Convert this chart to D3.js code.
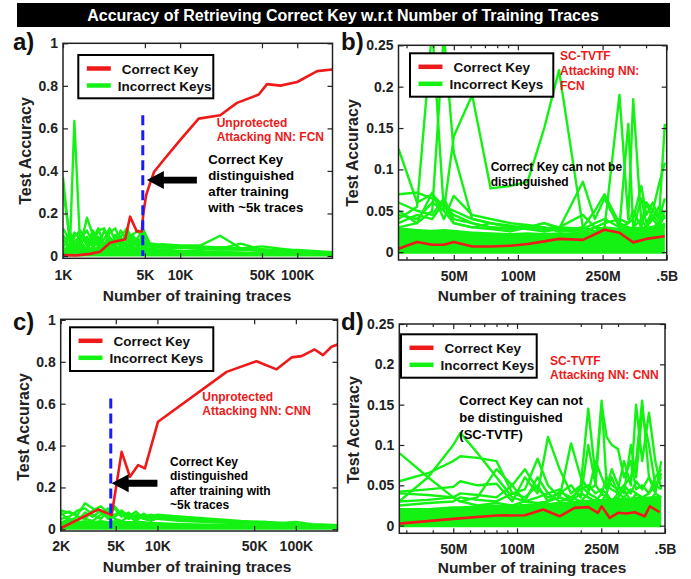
<!DOCTYPE html>
<html>
<head>
<meta charset="utf-8">
<script src="https://cdn.jsdelivr.net/npm/d3@7"></script>
<style>
  body { margin: 0; background: #fff; }
  text { font-family: "Liberation Sans", Arial, Helvetica, sans-serif; font-weight: bold; }
</style>
</head>
<body>
<div id="viz"></div>
<script>
const width = 691, height = 579;
const GREEN = "#14f214", RED = "#ee1a1a", BLUE = "#1a1aff";

const title = "Accuracy of Retrieving Correct Key w.r.t Number of Training Traces";

// ---------- a) unprotected, FCN ----------
const aTicks = [1000, 5000, 10000, 50000, 100000];
const aTickLabels = ["1K", "5K", "10K", "50K", "100K"];
const aCorrectX = [1000, 1310, 1700, 2070, 2520, 2970, 3390, 3740, 4270, 4700, 4850, 5130, 5550, 6000, 7200, 10000, 14400, 22000, 30600, 46900, 55200, 71800, 99800, 148000, 199000];
const aCorrectY = [0.004, 0.003, 0.01, 0.02, 0.062, 0.072, 0.078, 0.185, 0.115, 0.115, 0.2, 0.286, 0.344, 0.396, 0.45, 0.545, 0.646, 0.662, 0.72, 0.759, 0.808, 0.801, 0.818, 0.869, 0.877];
const aTraces = [1000, 1150, 1250, 1400, 1600, 1800, 2000, 2250, 2500, 2800, 3100, 3500, 3900, 4400, 4900, 5500, 7000, 10000, 15000, 22000, 33000, 50000, 100000, 200000];
const aIncorrect = [
  [0.37, 0.05, 0.03, 0.06, 0.09, 0.04, 0.07, 0.03, 0.05, 0.08, 0.04, 0.06, 0.03, 0.05, 0.07, 0.05, 0.045, 0.04, 0.04, 0.035, 0.03, 0.025, 0.018, 0.012],
  [0.31, 0.08, 0.04, 0.10, 0.05, 0.12, 0.06, 0.04, 0.09, 0.05, 0.03, 0.07, 0.10, 0.06, 0.04, 0.05, 0.05, 0.045, 0.04, 0.04, 0.03, 0.03, 0.02, 0.015],
  [0.13, 0.07, 0.635, 0.05, 0.03, 0.08, 0.13, 0.05, 0.04, 0.06, 0.09, 0.04, 0.07, 0.05, 0.115, 0.055, 0.05, 0.045, 0.045, 0.04, 0.035, 0.03, 0.02, 0.015],
  [0.06, 0.11, 0.06, 0.04, 0.18, 0.10, 0.04, 0.08, 0.13, 0.07, 0.05, 0.11, 0.06, 0.08, 0.04, 0.05, 0.055, 0.05, 0.05, 0.095, 0.035, 0.03, 0.022, 0.015],
  [0.10, 0.04, 0.09, 0.12, 0.07, 0.05, 0.12, 0.13, 0.06, 0.04, 0.12, 0.08, 0.05, 0.09, 0.12, 0.06, 0.05, 0.045, 0.04, 0.035, 0.058, 0.03, 0.02, 0.015],
  [0.02, 0.06, 0.11, 0.08, 0.12, 0.06, 0.09, 0.05, 0.11, 0.13, 0.07, 0.04, 0.10, 0.12, 0.06, 0.045, 0.045, 0.04, 0.035, 0.03, 0.035, 0.045, 0.025, 0.012],
  [0.04, 0.09, 0.05, 0.07, 0.03, 0.09, 0.05, 0.12, 0.08, 0.05, 0.09, 0.13, 0.08, 0.04, 0.09, 0.05, 0.04, 0.04, 0.035, 0.03, 0.03, 0.025, 0.02, 0.015],
  [0.08, 0.03, 0.07, 0.09, 0.06, 0.11, 0.08, 0.06, 0.04, 0.10, 0.06, 0.09, 0.04, 0.07, 0.05, 0.045, 0.04, 0.04, 0.035, 0.04, 0.035, 0.03, 0.028, 0.018]
];
const aDense = [0.04, 0.04, 0.045, 0.04, 0.045, 0.04, 0.045, 0.04, 0.045, 0.04, 0.045, 0.04, 0.045, 0.04, 0.045, 0.04, 0.035, 0.03, 0.028, 0.025, 0.022, 0.02, 0.016, 0.012];

// ---------- b) SC-TVTF, FCN (traces in millions) ----------
const bTicks = [50, 100, 250, 500];
const bTickLabels = ["50M", "100M", "250M", ".5B"];
const bCorrectX = [27.5, 33.6, 39.6, 44.9, 50, 61.1, 74.5, 92.5, 111, 133, 156, 202, 255, 300, 348, 401, 490];
const bCorrectY = [0.004, 0.0123, 0.009, 0.009, 0.0123, 0.0069, 0.0069, 0.0078, 0.0098, 0.013, 0.016, 0.0148, 0.027, 0.0234, 0.0118, 0.016, 0.0192];
const bTraces = [27.5, 33.6, 39.6, 44.9, 50, 61, 74.5, 92.5, 111, 133, 156, 202, 230, 255, 300, 330, 348, 380, 401, 430, 460, 490];
const bIncorrect = [
  [0.040, 0.055, 0.270, 0.050, 0.035, 0.030, 0.028, 0.025, 0.030, 0.025, 0.028, 0.022, 0.030, 0.025, 0.028, 0.030, 0.025, 0.030, 0.028, 0.030, 0.035, 0.030],
  [0.030, 0.035, 0.050, 0.265, 0.120, 0.040, 0.035, 0.030, 0.028, 0.030, 0.025, 0.030, 0.025, 0.030, 0.025, 0.028, 0.030, 0.025, 0.030, 0.040, 0.030, 0.045],
  [0.045, 0.040, 0.060, 0.050, 0.140, 0.190, 0.077, 0.080, 0.085, 0.150, 0.220, 0.030, 0.025, 0.030, 0.028, 0.025, 0.030, 0.028, 0.025, 0.030, 0.028, 0.035],
  [0.125, 0.060, 0.070, 0.055, 0.050, 0.040, 0.035, 0.030, 0.032, 0.028, 0.030, 0.025, 0.030, 0.028, 0.190, 0.040, 0.185, 0.035, 0.060, 0.050, 0.040, 0.065],
  [0.070, 0.072, 0.065, 0.055, 0.045, 0.035, 0.030, 0.028, 0.030, 0.035, 0.028, 0.085, 0.040, 0.065, 0.030, 0.035, 0.040, 0.080, 0.045, 0.060, 0.040, 0.155],
  [0.050, 0.035, 0.072, 0.040, 0.068, 0.045, 0.040, 0.035, 0.033, 0.030, 0.025, 0.030, 0.050, 0.070, 0.035, 0.030, 0.028, 0.065, 0.035, 0.050, 0.082, 0.108],
  [0.035, 0.045, 0.040, 0.060, 0.035, 0.030, 0.035, 0.032, 0.028, 0.025, 0.030, 0.028, 0.035, 0.040, 0.030, 0.155, 0.030, 0.040, 0.030, 0.045, 0.035, 0.050],
  [0.060, 0.050, 0.045, 0.065, 0.040, 0.035, 0.030, 0.028, 0.030, 0.035, 0.030, 0.045, 0.030, 0.035, 0.040, 0.035, 0.050, 0.030, 0.060, 0.040, 0.055, 0.040]
];
const bDense = [0.030, 0.028, 0.027, 0.028, 0.027, 0.025, 0.024, 0.023, 0.024, 0.023, 0.024, 0.024, 0.026, 0.028, 0.028, 0.030, 0.030, 0.031, 0.031, 0.032, 0.032, 0.033];

// ---------- c) unprotected, CNN ----------
const cTicks = [2000, 5000, 10000, 50000, 100000];
const cTickLabels = ["2K", "5K", "10K", "50K", "100K"];
const cCorrectX = [2000, 3740, 4670, 5510, 6330, 7260, 8120, 10100, 31600, 52000, 72600, 93100, 110000, 137000, 157000, 181000, 200000];
const cCorrectY = [0.005, 0.095, 0.068, 0.370, 0.251, 0.307, 0.291, 0.514, 0.752, 0.803, 0.764, 0.821, 0.827, 0.859, 0.832, 0.872, 0.883];
const cTraces = [2000, 2300, 2650, 3000, 3400, 3900, 4400, 4900, 5500, 6200, 7000, 8000, 9000, 10000, 15000, 25000, 40000, 60000, 80000, 100000, 130000, 200000];
const cIncorrect = [
  [0.09, 0.08, 0.07, 0.125, 0.10, 0.08, 0.06, 0.07, 0.09, 0.06, 0.085, 0.05, 0.06, 0.07, 0.06, 0.05, 0.04, 0.035, 0.03, 0.025, 0.022, 0.02],
  [0.07, 0.085, 0.06, 0.05, 0.09, 0.11, 0.08, 0.10, 0.06, 0.08, 0.05, 0.075, 0.05, 0.065, 0.055, 0.045, 0.035, 0.03, 0.03, 0.035, 0.025, 0.02],
  [0.05, 0.06, 0.09, 0.10, 0.07, 0.05, 0.09, 0.11, 0.07, 0.05, 0.07, 0.06, 0.07, 0.06, 0.05, 0.04, 0.03, 0.035, 0.025, 0.02, 0.018, 0.015],
  [0.03, 0.05, 0.04, 0.08, 0.06, 0.09, 0.05, 0.06, 0.08, 0.07, 0.06, 0.05, 0.04, 0.055, 0.045, 0.035, 0.03, 0.025, 0.02, 0.02, 0.015, 0.012],
  [0.08, 0.04, 0.06, 0.05, 0.04, 0.07, 0.10, 0.05, 0.04, 0.06, 0.04, 0.07, 0.05, 0.05, 0.04, 0.035, 0.03, 0.03, 0.025, 0.02, 0.02, 0.015]
];
const cDense = [0.04, 0.045, 0.04, 0.045, 0.04, 0.045, 0.04, 0.045, 0.04, 0.04, 0.04, 0.04, 0.035, 0.035, 0.03, 0.028, 0.025, 0.022, 0.02, 0.018, 0.015, 0.012];

// ---------- d) SC-TVTF, CNN (traces in millions) ----------
const dTicks = [50, 100, 250, 500];
const dTickLabels = ["50M", "100M", "250M", ".5B"];
const dCorrectX = [27.8, 50, 80.1, 109, 133, 159, 187, 217, 241, 251, 274, 300, 329, 360, 401, 424, 472];
const dCorrectY = [0.0025, 0.0084, 0.0125, 0.0129, 0.02, 0.0116, 0.022, 0.023, 0.0159, 0.024, 0.0096, 0.0159, 0.015, 0.0166, 0.0116, 0.024, 0.0166];
const dTraces = [27.8, 38, 50, 54, 65, 80, 95, 109, 125, 140, 159, 180, 200, 217, 235, 251, 265, 280, 300, 320, 345, 365, 390, 420, 450, 480];
const dIncorrect = [
  [0.090, 0.060, 0.035, 0.030, 0.025, 0.028, 0.025, 0.030, 0.028, 0.030, 0.035, 0.030, 0.040, 0.035, 0.030, 0.040, 0.035, 0.030, 0.040, 0.035, 0.045, 0.040, 0.035, 0.040, 0.050, 0.045],
  [0.030, 0.060, 0.100, 0.115, 0.090, 0.060, 0.035, 0.030, 0.035, 0.040, 0.030, 0.035, 0.030, 0.040, 0.035, 0.030, 0.040, 0.030, 0.035, 0.045, 0.030, 0.040, 0.035, 0.030, 0.040, 0.035],
  [0.055, 0.065, 0.080, 0.086, 0.084, 0.080, 0.040, 0.045, 0.083, 0.050, 0.035, 0.102, 0.060, 0.045, 0.050, 0.150, 0.110, 0.100, 0.095, 0.060, 0.080, 0.045, 0.050, 0.040, 0.060, 0.070],
  [0.042, 0.045, 0.048, 0.055, 0.050, 0.052, 0.030, 0.060, 0.040, 0.110, 0.070, 0.040, 0.050, 0.145, 0.060, 0.155, 0.050, 0.045, 0.040, 0.050, 0.060, 0.080, 0.155, 0.060, 0.040, 0.080],
  [0.040, 0.038, 0.035, 0.030, 0.035, 0.070, 0.050, 0.030, 0.060, 0.040, 0.045, 0.030, 0.050, 0.040, 0.080, 0.060, 0.045, 0.070, 0.050, 0.040, 0.100, 0.060, 0.140, 0.100, 0.050, 0.060],
  [0.030, 0.032, 0.035, 0.040, 0.038, 0.035, 0.050, 0.070, 0.045, 0.035, 0.040, 0.050, 0.035, 0.100, 0.050, 0.040, 0.060, 0.050, 0.045, 0.080, 0.050, 0.150, 0.080, 0.140, 0.080, 0.045],
  [0.025, 0.028, 0.030, 0.035, 0.032, 0.030, 0.040, 0.035, 0.050, 0.030, 0.042, 0.035, 0.045, 0.050, 0.040, 0.045, 0.040, 0.060, 0.040, 0.050, 0.040, 0.055, 0.045, 0.060, 0.045, 0.065]
];
const dDense = [0.022, 0.022, 0.024, 0.024, 0.025, 0.026, 0.026, 0.027, 0.028, 0.028, 0.030, 0.030, 0.032, 0.032, 0.033, 0.033, 0.034, 0.034, 0.035, 0.035, 0.035, 0.036, 0.036, 0.036, 0.037, 0.037];

const accTicksFull = [0, 0.2, 0.4, 0.6, 0.8, 1];
const accTicksZoom = [0, 0.05, 0.1, 0.15, 0.2, 0.25];

const svg = d3.select("#viz").append("svg").attr("width", width).attr("height", height);

// title bar
svg.append("rect").attr("x", 17).attr("y", 3).attr("width", 653).attr("height", 24).attr("fill", "#000");
svg.append("text").attr("x", 343).attr("y", 21).attr("text-anchor", "middle")
  .attr("fill", "#fff").style("font-size", "16px").text(title);

const panels = [
  {id: "a", label: "a)", box: {l: 63, r: 332.5, t: 43.3, b: 258.3}, xDom: [1000, 200000], yDom: [-0.0108, 1],
   ticks: aTicks, tickLabels: aTickLabels, yTicks: accTicksFull, yFmt: d3.format("~g"),
   cx: aCorrectX, cy: aCorrectY, gx: aTraces, greens: aIncorrect, dense: aDense,
   legend: {x: 78.3, y: 55, w: 135, h: 43.3}, labelPos: [13, 50], yLabel: [25, 151], xLabel: [197, 301], tickPad: 12,
   vline: {x: 4800, y: 0.662}, arrow: {from: [13900, 0.357], to: [5200, 0.357]},
   notes: [
     {x: 216.7, y: 127, size: 12, color: RED, lines: ["Unprotected", "Attacking NN: FCN"], step: 14},
     {x: 208.3, y: 164, size: 13.2, color: "#000", lines: ["Correct Key", "distinguished", "after training", "with ~5k traces"], step: 16}
   ]},
  {id: "b", label: "b)", box: {l: 398.5, r: 666.7, t: 45.3, b: 260}, xDom: [27.5, 500], yDom: [-0.0095, 0.25],
   ticks: bTicks, tickLabels: bTickLabels, yTicks: accTicksZoom, yFmt: d3.format("~g"), minor: true,
   cx: bCorrectX, cy: bCorrectY, gx: bTraces, greens: bIncorrect, dense: bDense,
   legend: {x: 410, y: 53.3, w: 143.3, h: 43.4}, labelPos: [341, 50], yLabel: [352, 153], xLabel: [532, 301], tickPad: 11,
   notes: [
     {x: 560, y: 59.5, size: 12, color: RED, lines: ["SC-TVTF", "Attacking NN:", "FCN"], step: 15},
     {x: 490.7, y: 170.5, size: 12, color: "#000", lines: ["Correct Key can not be", "distinguished"], step: 15.5}
   ]},
  {id: "c", label: "c)", box: {l: 60.7, r: 337.5, t: 319.3, b: 531}, xDom: [2000, 200000], yDom: [-0.008, 1.003],
   ticks: cTicks, tickLabels: cTickLabels, yTicks: accTicksFull, yFmt: d3.format("~g"),
   cx: cCorrectX, cy: cCorrectY, gx: cTraces, greens: cIncorrect, dense: cDense,
   legend: {x: 70, y: 327.3, w: 143.3, h: 43.7}, labelPos: [13, 330], yLabel: [23, 427], xLabel: [197, 572], tickPad: 10.5,
   vline: {x: 4600, y: 0.625}, arrow: {from: [10000, 0.22], to: [4670, 0.22]},
   notes: [
     {x: 202.3, y: 401, size: 12, color: RED, lines: ["Unprotected", "Attacking NN: CNN"], step: 14.3},
     {x: 170, y: 465.5, size: 12, color: "#000", lines: ["Correct Key", "distinguished", "after training with", "~5k traces"], step: 14.5}
   ]},
  {id: "d", label: "d)", box: {l: 399.3, r: 665, t: 324, b: 533.3}, xDom: [27.8, 500], yDom: [-0.0095, 0.25],
   ticks: dTicks, tickLabels: dTickLabels, yTicks: accTicksZoom, yFmt: d3.format("~g"), minor: true,
   cx: dCorrectX, cy: dCorrectY, gx: dTraces, greens: dIncorrect, dense: dDense,
   legend: {x: 401, y: 334.3, w: 135.7, h: 43.4}, labelPos: [341, 330], yLabel: [353, 430], xLabel: [532, 573], tickPad: 11,
   notes: [
     {x: 550, y: 364.5, size: 12, color: RED, lines: ["SC-TVTF", "Attacking NN: CNN"], step: 14},
     {x: 459.3, y: 405, size: 13, color: "#000", lines: ["Correct Key can not", "be distinguished", "(SC-TVTF)"], step: 17}
   ]}
];

panels.forEach(p => {
  const {l, r, t, b} = p.box;
  const x = d3.scaleLog().domain(p.xDom).range([l, r]);
  const y = d3.scaleLinear().domain(p.yDom).range([b, t]);
  const g = svg.append("g");

  svg.append("clipPath").attr("id", "clip-" + p.id).append("rect")
    .attr("x", l).attr("y", t).attr("width", r - l).attr("height", b - t);
  const plot = g.append("g").attr("clip-path", `url(#clip-${p.id})`);

  // dense band of incorrect keys near zero
  plot.append("path").datum(p.dense)
    .attr("d", d3.area().x((d, i) => x(p.gx[i])).y0(y(-0.002)).y1(d => y(d)))
    .attr("fill", GREEN);

  const gline = d3.line().x((d, i) => x(p.gx[i])).y(d => y(d));
  plot.selectAll("path.inc").data(p.greens).join("path").attr("class", "inc")
    .attr("d", gline).attr("fill", "none").attr("stroke", GREEN)
    .attr("stroke-width", 2.4).attr("stroke-linejoin", "round");

  const rline = d3.line().x(d => x(d[0])).y(d => y(d[1]));
  plot.append("path").datum(d3.zip(p.cx, p.cy)).attr("d", rline)
    .attr("fill", "none").attr("stroke", RED).attr("stroke-width", 2.6).attr("stroke-linejoin", "round");

  if (p.vline) {
    plot.append("line").attr("x1", x(p.vline.x)).attr("x2", x(p.vline.x))
      .attr("y1", y(p.vline.y)).attr("y2", y(0))
      .attr("stroke", BLUE).attr("stroke-width", 3).attr("stroke-dasharray", "10,5");
  }
  if (p.arrow) {
    const x0 = x(p.arrow.from[0]), x1 = x(p.arrow.to[0]), yy = y(p.arrow.from[1]);
    const hl = 17, sh = 3.4, hh = 9;
    g.append("path").attr("fill", "#000").attr("d",
      `M${x1},${yy}L${x1 + hl},${yy - hh}L${x1 + hl},${yy - sh}L${x0},${yy - sh}L${x0},${yy + sh}L${x1 + hl},${yy + sh}L${x1 + hl},${yy + hh}Z`);
  }

  // axes (ticks inward, mirrored like a boxed plot)
  const xb = d3.axisBottom(x).tickValues(p.ticks).tickFormat((d, i) => p.tickLabels[i])
    .tickSizeInner(-5).tickSizeOuter(0).tickPadding(p.tickPad);
  g.append("g").attr("transform", `translate(0,${b})`).call(xb);
  const xt = d3.axisTop(x).tickValues(p.ticks).tickFormat("").tickSizeInner(-5).tickSizeOuter(0);
  g.append("g").attr("transform", `translate(0,${t})`).call(xt);
  const yl = d3.axisLeft(y).tickValues(p.yTicks).tickFormat(p.yFmt).tickSizeInner(-5).tickSizeOuter(0).tickPadding(5);
  g.append("g").attr("transform", `translate(${l},0)`).call(yl);
  const yr = d3.axisRight(y).tickValues(p.yTicks).tickFormat("").tickSizeInner(-5).tickSizeOuter(0);
  g.append("g").attr("transform", `translate(${r},0)`).call(yr);
  if (p.minor) {
    const minor = x.ticks().filter(v => !p.ticks.includes(v));
    g.append("g").attr("transform", `translate(0,${b})`)
      .call(d3.axisBottom(x).tickValues(minor).tickFormat("").tickSizeInner(-3).tickSizeOuter(0));
    g.append("g").attr("transform", `translate(0,${t})`)
      .call(d3.axisTop(x).tickValues(minor).tickFormat("").tickSizeInner(-3).tickSizeOuter(0));
  }
  g.selectAll(".domain").remove();
  g.selectAll(".tick line").attr("stroke", "#222").attr("stroke-width", 1.2);
  g.selectAll(".tick text").attr("fill", "#222").style("font-size", "14px").style("font-family", null);
  g.append("rect").attr("x", l).attr("y", t).attr("width", r - l).attr("height", b - t)
    .attr("fill", "none").attr("stroke", "#222").attr("stroke-width", 1.5);

  // annotations
  p.notes.forEach(n => {
    const tx = g.append("text").attr("x", n.x).attr("y", n.y).attr("fill", n.color).style("font-size", n.size + "px");
    n.lines.forEach((s, i) => tx.append("tspan").attr("x", n.x).attr("y", n.y + i * n.step).text(s));
  });

  // legend
  const L = p.legend;
  const lg = g.append("g");
  lg.append("rect").attr("x", L.x).attr("y", L.y).attr("width", L.w).attr("height", L.h)
    .attr("fill", "#fff").attr("stroke", "#000").attr("stroke-width", 2);
  [[RED, "Correct Key", 13.5, 43.5], [GREEN, "Incorrect Keys", 30.5, 39.5]].forEach(([c, s, dy, dx]) => {
    lg.append("line").attr("x1", L.x + 8.5).attr("x2", L.x + 32.5).attr("y1", L.y + dy).attr("y2", L.y + dy)
      .attr("stroke", c).attr("stroke-width", 4.5);
    lg.append("text").attr("x", L.x + dx).attr("y", L.y + dy + 5).attr("fill", "#111")
      .style("font-size", "13.5px").text(s);
  });

  // labels
  svg.append("text").attr("x", p.labelPos[0]).attr("y", p.labelPos[1]).style("font-size", "24px").attr("fill", "#111").text(p.label);
  svg.append("text").attr("transform", `translate(${p.yLabel[0] + 6},${p.yLabel[1]}) rotate(-90)`)
    .attr("text-anchor", "middle").style("font-size", "16px").attr("fill", "#222").text("Test Accuracy");
  svg.append("text").attr("x", p.xLabel[0]).attr("y", p.xLabel[1]).attr("text-anchor", "middle")
    .style("font-size", "15.5px").attr("fill", "#222").text("Number of training traces");
});
</script>
</body>
</html>
